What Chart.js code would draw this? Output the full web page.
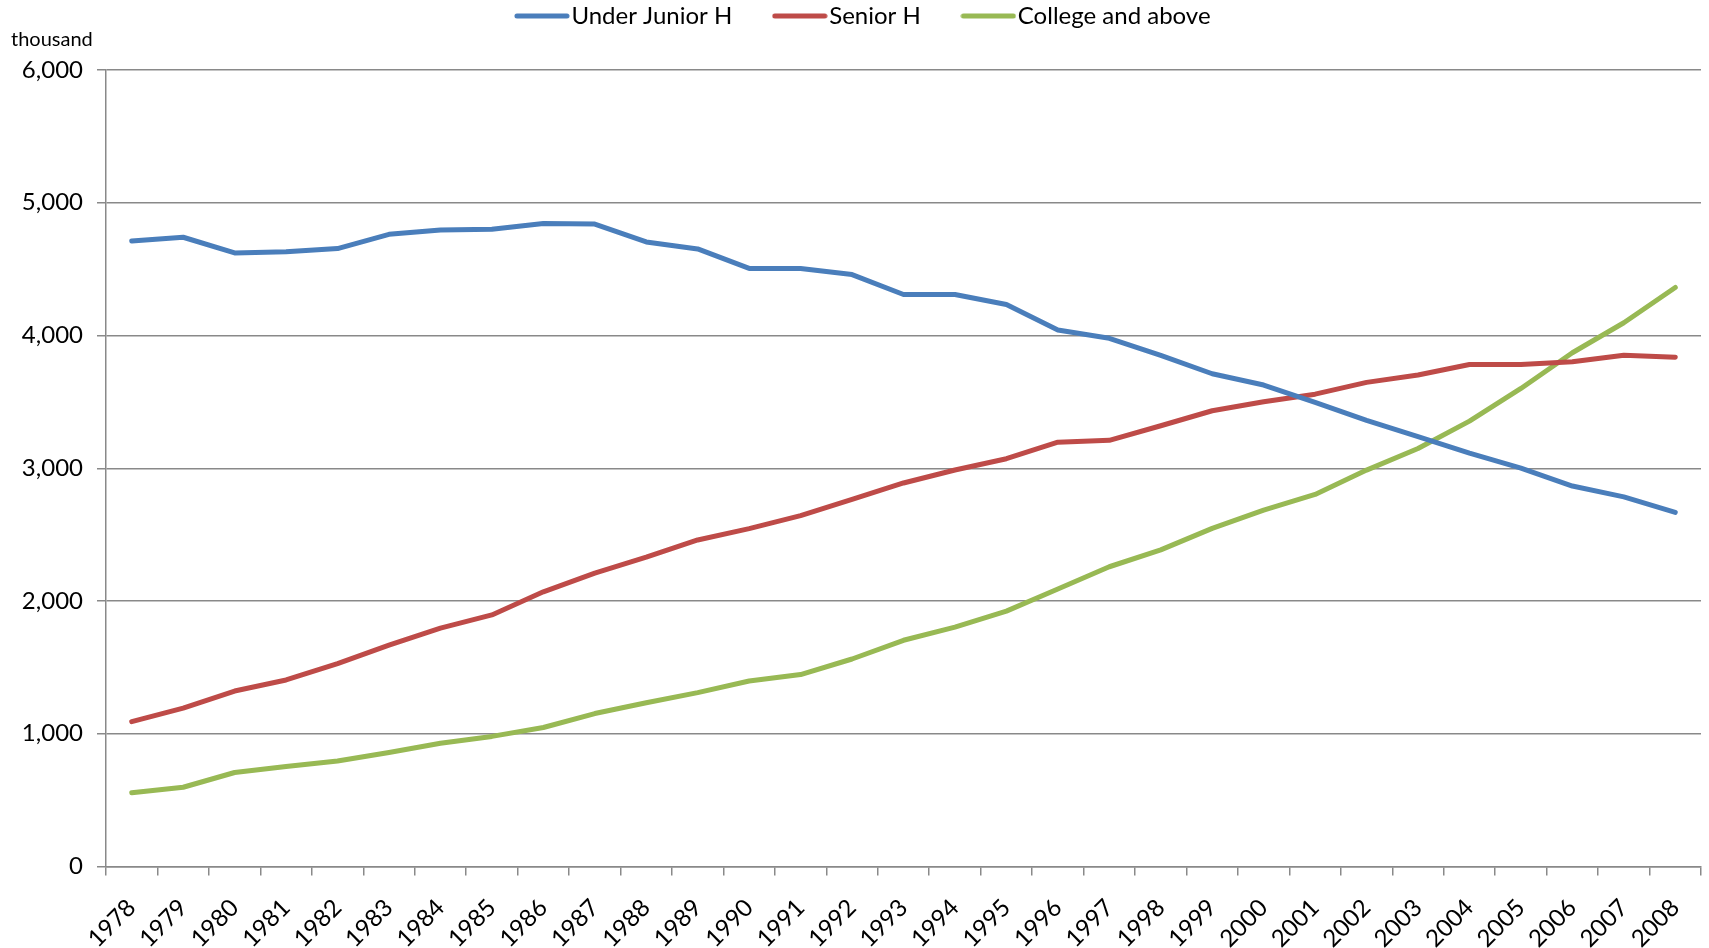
<!DOCTYPE html>
<html>
<head>
<meta charset="utf-8">
<title>Employment by education level</title>
<script src="https://cdn.jsdelivr.net/npm/chart.js@4.4.1/dist/chart.umd.min.js"></script>
<style>
  html, body { margin: 0; padding: 0; background: #fff; }
  #wrap { width: 1709px; height: 948px; }
</style>
</head>
<body>
<div id="wrap"><canvas id="grafico" width="1709" height="948"></canvas></div>
<script>
// anos (eixo x)
const anos = ['1978', '1979', '1980', '1981', '1982', '1983', '1984', '1985', '1986', '1987',
  '1988', '1989', '1990', '1991', '1992', '1993', '1994', '1995', '1996', '1997',
  '1998', '1999', '2000', '2001', '2002', '2003', '2004', '2005', '2006', '2007', '2008'];

// valores em milhares
const underJunior = [4711, 4740, 4622, 4630, 4655, 4762, 4794, 4800, 4844, 4839,
  4705, 4652, 4505, 4505, 4459, 4309, 4309, 4234, 4042, 3979,
  3851, 3712, 3627, 3497, 3361, 3239, 3114, 3001, 2866, 2784, 2668];
const seniorH = [1091, 1193, 1322, 1405, 1529, 1667, 1796, 1895, 2069, 2210,
  2330, 2460, 2545, 2643, 2766, 2889, 2987, 3072, 3196, 3210,
  3320, 3433, 3501, 3558, 3647, 3702, 3782, 3782, 3802, 3852, 3837];
const college = [556, 597, 708, 753, 795, 859, 928, 980, 1047, 1152,
  1233, 1310, 1397, 1446, 1563, 1704, 1803, 1924, 2090, 2258,
  2385, 2547, 2685, 2803, 2986, 3149, 3355, 3601, 3870, 4096, 4362];

const yTicks = [0, 1000, 2000, 3000, 4000, 5000, 6000];
const unidade = 'thousand';

const cinza = '#898989';
const fonte = 'Lato, "Open Sans", sans-serif';

// amostra de linha grossa pra legenda (o pointStyle 'line' fica fino)
function amostraLinha(cor) {
  const c = document.createElement('canvas');
  c.width = 56;
  c.height = 6;
  const g = c.getContext('2d');
  g.strokeStyle = cor;
  g.lineWidth = 5;
  g.lineCap = 'round';
  g.beginPath();
  g.moveTo(3, 3);
  g.lineTo(53, 3);
  g.stroke();
  return c;
}

// empurra a legenda pra cima e reserva o espaço acima do gráfico
const legendaAltura = {
  id: 'legendaAltura',
  beforeLayout(chart) {
    const leg = chart.legend;
    if (leg && !leg._ajustada) {
      const fitOriginal = leg.fit;
      leg.fit = function () {
        fitOriginal.call(this);
        this.height = 116;
      };
      leg._ajustada = true;
    }
  },
  afterLayout(chart) {
    // legenda um pouco à direita do centro
    chart.legend.left += 17;
    chart.legend.right += 17;
  }
};

// texto da unidade em cima do eixo y
const rotuloUnidade = {
  id: 'rotuloUnidade',
  afterDraw(chart) {
    const ctx = chart.ctx;
    ctx.save();
    ctx.font = '20px ' + fonte;
    ctx.fillStyle = '#000';
    ctx.textBaseline = 'middle';
    ctx.textAlign = 'left';
    ctx.fillText(unidade, 11, 40);
    ctx.restore();
  }
};

const ctx = document.getElementById('grafico').getContext('2d');

new Chart(ctx, {
  type: 'line',
  data: {
    labels: anos,
    datasets: [
      { label: 'Under Junior H', data: underJunior, borderColor: '#4a7ebb', backgroundColor: '#4a7ebb', pointStyle: amostraLinha('#4a7ebb') },
      { label: 'Senior H', data: seniorH, borderColor: '#be4b48', backgroundColor: '#be4b48', pointStyle: amostraLinha('#be4b48') },
      { label: 'College and above', data: college, borderColor: '#98b954', backgroundColor: '#98b954', pointStyle: amostraLinha('#98b954') }
    ]
  },
  options: {
    responsive: false,
    animation: false,
    devicePixelRatio: 1,
    layout: { padding: { top: -46, right: 8, left: 0, bottom: 0 } },
    elements: {
      line: { borderWidth: 5, tension: 0, borderCapStyle: 'round', borderJoinStyle: 'round' },
      point: { radius: 0, hoverRadius: 0 }
    },
    plugins: {
      tooltip: { enabled: false },
      legend: {
        position: 'top',
        labels: {
          usePointStyle: true,
          pointStyleWidth: 35,
          padding: 50,
          color: '#000',
          font: { family: fonte, size: 24 }
        }
      }
    },
    scales: {
      x: {
        offset: true,
        grid: {
          offset: true,
          drawOnChartArea: false,
          drawTicks: true,
          tickLength: 9,
          color: cinza,
          lineWidth: 1.5
        },
        border: { display: true, color: cinza, width: 1.5 },
        ticks: {
          autoSkip: false,
          minRotation: 45,
          maxRotation: 45,
          padding: 18,
          color: '#000',
          font: { family: fonte, size: 24 }
        },
        afterFit(scale) {
          scale.height = 81.5;
          // o último rótulo inclinado não precisa de folga à direita
          scale.paddingRight = 0;
        }
      },
      y: {
        min: 0,
        max: 6000,
        afterBuildTicks(scale) { scale.ticks = yTicks.map(v => ({ value: v })); },
        grid: {
          color: cinza,
          lineWidth: 1.5,
          tickLength: 9
        },
        border: { display: true, color: cinza, width: 1.5 },
        ticks: {
          padding: 14,
          color: '#000',
          font: { family: fonte, size: 24 },
          callback: v => v.toLocaleString('en-US')
        },
        afterFit(scale) { scale.width = 106; }
      }
    }
  },
  plugins: [legendaAltura, rotuloUnidade]
});
</script>
</body>
</html>
